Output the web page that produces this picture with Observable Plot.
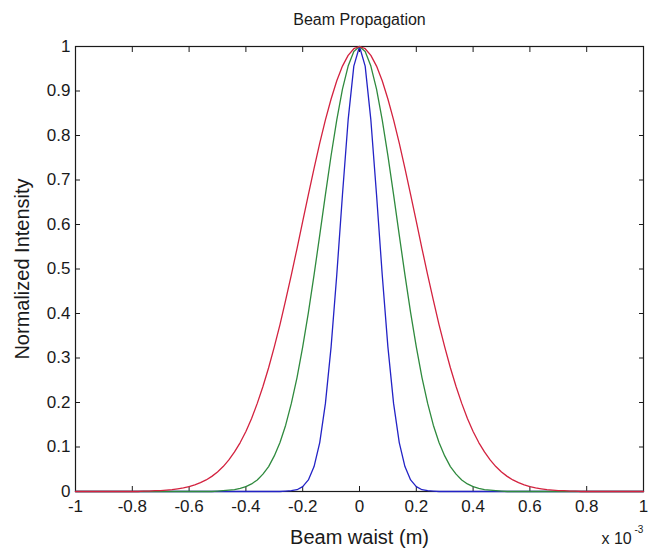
<!DOCTYPE html>
<html><head><meta charset="utf-8">
<script src="https://cdn.jsdelivr.net/npm/d3@7"></script>
<script src="https://cdn.jsdelivr.net/npm/@observablehq/plot@0.6"></script>
<style>body{margin:0;background:#fff}</style>
</head><body><div id="chart"></div>
<script>
const titleText = "Beam Propagation";
const xLabel = "Beam waist (m)";
const yLabel = "Normalized Intensity";
const xMultiplier = ["x 10", "-3"];
const xTicks = [-1, -0.8, -0.6, -0.4, -0.2, 0, 0.2, 0.4, 0.6, 0.8, 1];
const xTickLabels = ["-1", "-0.8", "-0.6", "-0.4", "-0.2", "0", "0.2", "0.4", "0.6", "0.8", "1"];
const yTicks = [0, 0.1, 0.2, 0.3, 0.4, 0.5, 0.6, 0.7, 0.8, 0.9, 1];
const yTickLabels = ["0", "0.1", "0.2", "0.3", "0.4", "0.5", "0.6", "0.7", "0.8", "0.9", "1"];

// beam position (x 10^-3 m)
const beamX = [
  -1, -0.98, -0.96, -0.94, -0.92, -0.9, -0.88, -0.86, -0.84, -0.82,
  -0.8, -0.78, -0.76, -0.74, -0.72, -0.7, -0.68, -0.66, -0.64, -0.62,
  -0.6, -0.58, -0.56, -0.54, -0.52, -0.5, -0.48, -0.46, -0.44, -0.42,
  -0.4, -0.38, -0.36, -0.34, -0.32, -0.3, -0.28, -0.26, -0.24, -0.22,
  -0.2, -0.18, -0.16, -0.14, -0.12, -0.1, -0.08, -0.06, -0.04, -0.02,
  0,
  0.02, 0.04, 0.06, 0.08, 0.1, 0.12, 0.14, 0.16, 0.18, 0.2,
  0.22, 0.24, 0.26, 0.28, 0.3, 0.32, 0.34, 0.36, 0.38, 0.4,
  0.42, 0.44, 0.46, 0.48, 0.5, 0.52, 0.54, 0.56, 0.58, 0.6,
  0.62, 0.64, 0.66, 0.68, 0.7, 0.72, 0.74, 0.76, 0.78, 0.8,
  0.82, 0.84, 0.86, 0.88, 0.9, 0.92, 0.94, 0.96, 0.98, 1
];

const redIntensity = [
  0, 0, 0, 0, 0, 0, 0, 0, 0, 0, 0, 0,
  0.001, 0.001, 0.002, 0.002, 0.003, 0.004, 0.006, 0.008, 0.011, 0.015,
  0.020, 0.026, 0.034, 0.044, 0.056, 0.071, 0.089, 0.110, 0.135, 0.164,
  0.198, 0.236, 0.278, 0.325, 0.375, 0.430, 0.487, 0.546, 0.607, 0.667,
  0.726, 0.783, 0.835, 0.882, 0.923, 0.956, 0.980, 0.995,
  1,
  0.995, 0.980, 0.956, 0.923, 0.882, 0.835, 0.783, 0.726,
  0.667, 0.607, 0.546, 0.487, 0.430, 0.375, 0.325, 0.278, 0.236, 0.198,
  0.164, 0.135, 0.110, 0.089, 0.071, 0.056, 0.044, 0.034, 0.026, 0.020,
  0.015, 0.011, 0.008, 0.006, 0.004, 0.003, 0.002, 0.002, 0.001, 0.001,
  0, 0, 0, 0, 0, 0, 0, 0, 0, 0, 0, 0
];

const greenIntensity = [
  0, 0, 0, 0, 0, 0, 0, 0, 0, 0, 0, 0, 0, 0, 0, 0, 0, 0, 0, 0, 0, 0, 0, 0, 0,
  0.001, 0.002, 0.003, 0.004, 0.007, 0.011, 0.017, 0.026, 0.039, 0.056,
  0.080, 0.110, 0.149, 0.198, 0.256, 0.325, 0.402, 0.487, 0.576, 0.667,
  0.755, 0.835, 0.904, 0.956, 0.989,
  1,
  0.989, 0.956, 0.904, 0.835, 0.755,
  0.667, 0.576, 0.487, 0.402, 0.325, 0.256, 0.198, 0.149, 0.110, 0.080,
  0.056, 0.039, 0.026, 0.017, 0.011, 0.007, 0.004, 0.003, 0.002, 0.001,
  0, 0, 0, 0, 0, 0, 0, 0, 0, 0, 0, 0, 0, 0, 0, 0, 0, 0, 0, 0, 0, 0, 0, 0, 0
];

const blueIntensity = [
  0, 0, 0, 0, 0, 0, 0, 0, 0, 0, 0, 0, 0, 0, 0, 0, 0, 0, 0, 0,
  0, 0, 0, 0, 0, 0, 0, 0, 0, 0, 0, 0, 0, 0, 0, 0, 0,
  0.001, 0.002, 0.004, 0.011, 0.026, 0.056, 0.110, 0.198, 0.325, 0.487, 0.667, 0.835, 0.956,
  1,
  0.956, 0.835, 0.667, 0.487, 0.325, 0.198, 0.110, 0.056, 0.026, 0.011, 0.004, 0.002, 0.001,
  0, 0, 0, 0, 0, 0, 0, 0, 0, 0, 0, 0, 0, 0, 0, 0, 0, 0, 0, 0,
  0, 0, 0, 0, 0, 0, 0, 0, 0, 0, 0, 0, 0, 0, 0, 0, 0
];

const seriesColors = {blue: "#2323c6", green: "#2f8a3e", red: "#d3223f"};

const font = "'Liberation Sans', Arial, Helvetica, sans-serif";
const lbl = (ticks, labels) => (d) => labels[ticks.indexOf(d)];

const chart = Plot.plot({
  width: 666,
  height: 549,
  marginLeft: 75,
  marginRight: 23,
  marginTop: 46,
  marginBottom: 58,
  style: {fontFamily: font, fontSize: "17px", color: "#1a1a1a", background: "#fff", overflow: "visible"},
  x: {domain: [-1, 1]},
  y: {domain: [0, 1]},
  marks: [
    Plot.frame({stroke: "#1a1a1a", strokeWidth: 1.2}),
    Plot.axisX(xTicks, {anchor: "bottom", tickSize: -5, tickPadding: 13, tickFormat: lbl(xTicks, xTickLabels), label: null}),
    Plot.axisX(xTicks, {anchor: "top", tickSize: -5, tickFormat: () => "", label: null}),
    Plot.axisY(yTicks, {anchor: "left", tickSize: -5, tickPadding: 10, tickFormat: lbl(yTicks, yTickLabels), label: null}),
    Plot.axisY(yTicks, {anchor: "right", tickSize: -5, tickFormat: () => "", label: null}),
    Plot.line(blueIntensity, {x: (d, i) => beamX[i], y: (d) => d, stroke: seriesColors.blue, strokeWidth: 1.3}),
    Plot.line(greenIntensity, {x: (d, i) => beamX[i], y: (d) => d, stroke: seriesColors.green, strokeWidth: 1.3}),
    Plot.line(redIntensity, {x: (d, i) => beamX[i], y: (d) => d, stroke: seriesColors.red, strokeWidth: 1.3}),
    Plot.text([titleText], {text: (d) => d, frameAnchor: "top", dy: -27, textAnchor: "middle", lineAnchor: "middle", fontSize: 16}),
    Plot.text([xLabel], {text: (d) => d, frameAnchor: "bottom", dy: 46, textAnchor: "middle", lineAnchor: "middle", fontSize: 20}),
    Plot.text([yLabel], {text: (d) => d, frameAnchor: "left", dx: -53, rotate: -90, textAnchor: "middle", lineAnchor: "middle", fontSize: 20}),
    Plot.text([xMultiplier[0]], {text: (d) => d, frameAnchor: "bottom-right", dx: -42, dy: 47, textAnchor: "start", lineAnchor: "middle", fontSize: 16}),
    Plot.text([xMultiplier[1]], {text: (d) => d, frameAnchor: "bottom-right", dx: -9, dy: 38, textAnchor: "start", lineAnchor: "middle", fontSize: 10})
  ]
});
document.getElementById("chart").appendChild(chart);
</script>
</body></html>
